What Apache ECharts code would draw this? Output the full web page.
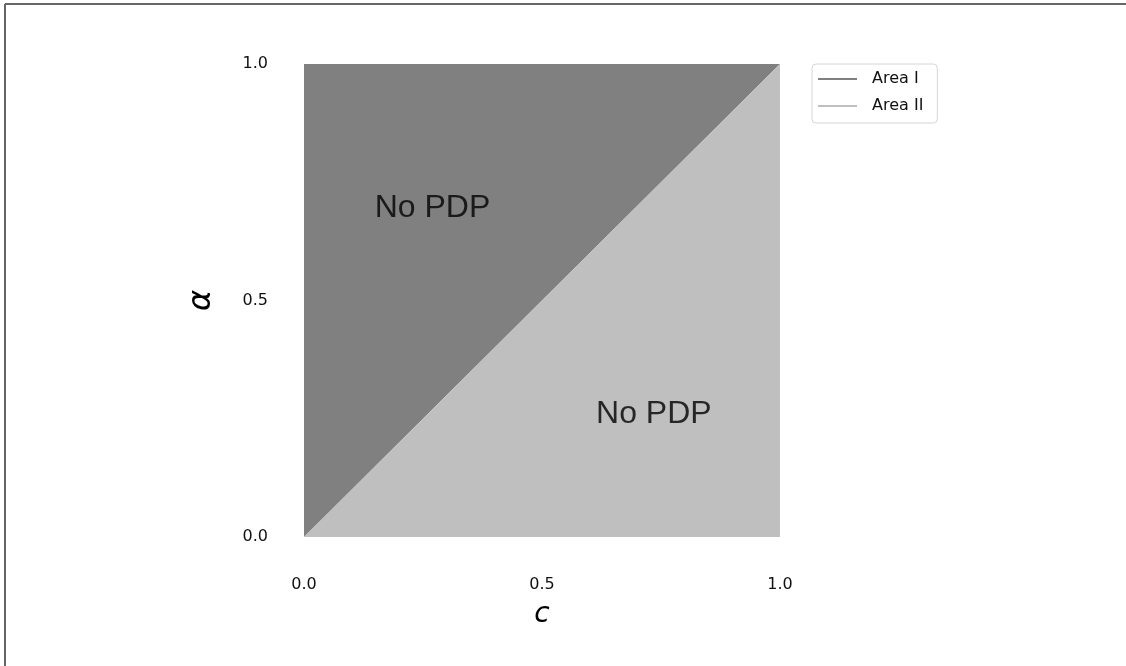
<!DOCTYPE html>
<html>
<head>
<meta charset="utf-8">
<script src="https://cdn.jsdelivr.net/npm/echarts@6/dist/echarts.min.js"></script>
<style>
  html, body { margin: 0; padding: 0; background: #fff; }
  #chart { width: 1126px; height: 666px; }
</style>
</head>
<body>
<div id="chart"></div>
<script>
// region vertices in (c, alpha)
const areaIPoints = [[0, 0], [0, 1], [1, 1]]
const areaIIPoints = [[0, 0], [1, 0], [1, 1]]
const seriesNames = ['Area I', 'Area II']
const seriesColors = ['#808080', '#bfbfbf']
const tickValues = [0, 0.5, 1]
// annotation positions
const notes = [
  { text: 'No PDP', at: [0.27, 0.695] },
  { text: 'No PDP', at: [0.735, 0.26] }
]

const chart = echarts.init(document.getElementById('chart'))

function polygonSeries(name, points, color) {
  return {
    name: name,
    type: 'custom',
    itemStyle: { color: color },
    data: points,
    renderItem: (params, api) => {
      if (params.dataIndex !== 0) {
        return
      }
      return {
        type: 'polygon',
        shape: { points: points.map(p => api.coord(p)) },
        style: { fill: color }
      }
    },
    silent: true,
    animation: false
  }
}

const tickFmt = v => tickValues.indexOf(v) >= 0 ? v.toFixed(1) : ''

chart.setOption({
  animation: false,
  textStyle: { fontFamily: 'DejaVu Sans' },
  grid: { left: 304, top: 64, width: 476, height: 473 },
  legend: {
    orient: 'vertical',
    left: 812,
    top: 64,
    padding: [6, 14, 8, 6],
    itemGap: 9,
    itemWidth: 39,
    itemHeight: 2,
    icon: 'rect',
    borderColor: '#d6d6d6',
    borderWidth: 1,
    borderRadius: 4,
    textStyle: { fontSize: 16, color: '#111', lineHeight: 18, padding: [0, 0, 0, 10] },
    data: seriesNames
  },
  xAxis: {
    type: 'value',
    min: 0,
    max: 1,
    interval: 0.5,
    name: 'c',
    nameLocation: 'middle',
    nameGap: 64,
    nameTextStyle: { fontSize: 28, fontStyle: 'italic', color: '#000' },
    axisLine: { show: false },
    axisTick: { show: false },
    splitLine: { show: false },
    axisLabel: { margin: 40, fontSize: 16, color: '#111', formatter: tickFmt }
  },
  yAxis: {
    type: 'value',
    min: 0,
    max: 1,
    interval: 0.5,
    name: 'α',
    nameLocation: 'middle',
    nameGap: 86,
    nameTextStyle: { fontSize: 32, fontStyle: 'italic', color: '#000' },
    axisLine: { show: false },
    axisTick: { show: false },
    splitLine: { show: false },
    axisLabel: { margin: 36, fontSize: 16, color: '#111', formatter: tickFmt }
  },
  graphic: [
    { type: 'line', shape: { x1: 5, y1: 4, x2: 1126, y2: 4 }, style: { stroke: '#666', lineWidth: 2 } },
    { type: 'line', shape: { x1: 5, y1: 4, x2: 5, y2: 666 }, style: { stroke: '#666', lineWidth: 2 } }
  ],
  series: [
    polygonSeries(seriesNames[0], areaIPoints, seriesColors[0]),
    polygonSeries(seriesNames[1], areaIIPoints, seriesColors[1]),
    {
      type: 'scatter',
      symbolSize: 0,
      silent: true,
      data: notes.map(n => ({ value: n.at, name: n.text })),
      label: {
        show: true,
        position: 'inside',
        formatter: p => p.name,
        fontFamily: 'Liberation Sans',
        fontSize: 32,
        color: '#000'
      }
    }
  ]
})
</script>
</body>
</html>
